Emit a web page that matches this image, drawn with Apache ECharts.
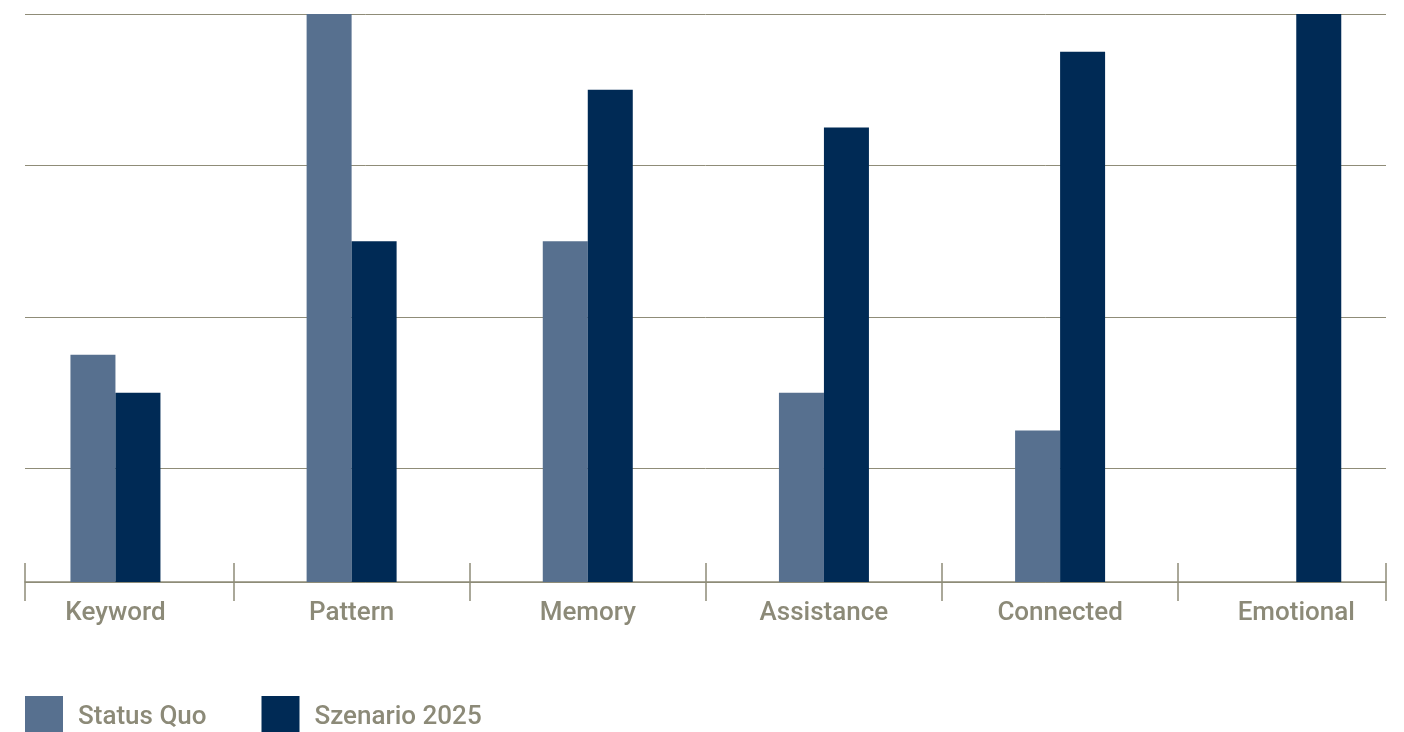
<!DOCTYPE html>
<html>
<head>
<meta charset="utf-8">
<style>
html,body{margin:0;padding:0;background:#fff;}
#chart{width:1404px;height:732px;}
</style>
<script src="https://cdn.jsdelivr.net/npm/echarts@6/dist/echarts.min.js"></script>
</head>
<body>
<div id="chart"></div>
<script>
const categories = ['Keyword', 'Pattern', 'Memory', 'Assistance', 'Connected', 'Emotional'];
const statusQuo = [1.75, 4, 2.5, 1.5, 1.25, null];
const szenario2025 = [1.5, 2.5, 3.5, 3.25, 3.75, 4];
const seriesNames = ['Status Quo', 'Szenario 2025'];

const TEXT = '#8c8a78';
const LINE = '#8f8c78';
const FONT = 'Roboto';

const xMin = -0.383, xMax = 5.38;
const boundaries = [xMin];
for (let i = 0; i < categories.length - 1; i++) boundaries.push(i + 0.5);
boundaries.push(xMax);
const centers = categories.map((c, i) => i);

const chart = echarts.init(document.getElementById('chart'), null, {renderer: 'canvas'});
chart.setOption({
  animation: false,
  backgroundColor: '#ffffff',
  grid: {left: 25, right: 18, top: 14, bottom: 150, containLabel: false},
  legend: {
    left: 25, top: 696, padding: 0,
    itemWidth: 38, itemHeight: 42, itemGap: 55,
    icon: 'rect',
    textStyle: {color: TEXT, fontFamily: FONT, fontSize: 26, fontWeight: 500, padding: [4, 0, 0, 10]},
    data: seriesNames
  },
  xAxis: [{
    type: 'value', min: xMin, max: xMax,
    axisLine: {show: true, onZero: false, lineStyle: {color: LINE, width: 1.5}},
    axisTick: {show: true, customValues: boundaries, length: 19, inside: false, lineStyle: {color: LINE, width: 1.5}},
    axisLabel: {
      show: true, customValues: centers, margin: 18,
      color: TEXT, fontFamily: FONT, fontSize: 26, fontWeight: 500,
      formatter: v => categories[Math.round(v)]
    },
    splitLine: {show: false}
  }, {
    type: 'value', min: xMin, max: xMax, position: 'bottom',
    axisLine: {show: false, onZero: false},
    axisTick: {show: true, customValues: boundaries, length: 19, inside: true, lineStyle: {color: LINE, width: 1.5}},
    axisLabel: {show: false},
    splitLine: {show: false}
  }],
  yAxis: {
    type: 'value', min: 0.25, max: 4, splitNumber: 4,
    axisLine: {show: false}, axisTick: {show: false}, axisLabel: {show: false},
    splitLine: {show: true, lineStyle: {color: LINE, width: 1}}
  },
  series: [{
    name: seriesNames[0], type: 'bar', xAxisIndex: 0,
    barWidth: 45, barGap: '0%',
    itemStyle: {color: '#57708f'},
    data: statusQuo.map((v, i) => [i, v])
  }, {
    name: seriesNames[1], type: 'bar', xAxisIndex: 0,
    barWidth: 45, barGap: '0%',
    itemStyle: {color: '#002a55'},
    data: szenario2025.map((v, i) => [i, v])
  }]
});
</script>
</body>
</html>
